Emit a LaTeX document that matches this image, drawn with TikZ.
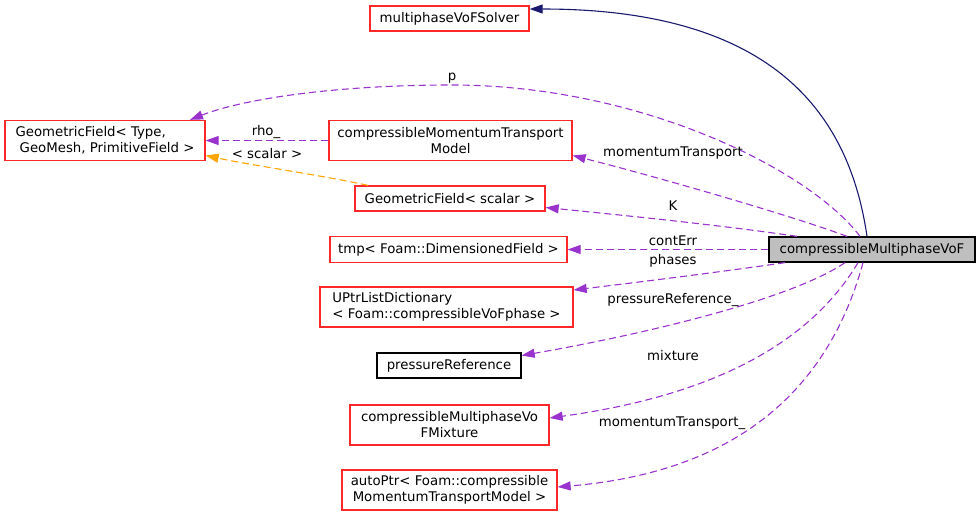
\documentclass[tikz,border=0pt]{standalone}
\usepackage{fontspec}
\setmainfont{DejaVu Sans}
\usetikzlibrary{arrows.meta}

\definecolor{memberpurple}{RGB}{154,50,205}
\definecolor{templorange}{RGB}{255,165,0}
\definecolor{baseblue}{RGB}{25,25,112}
\definecolor{boxred}{RGB}{255,40,40}
\definecolor{selfgray}{RGB}{191,191,191}

\tikzset{
    classbox/.style={draw=boxred, line width=1.3pt, inner sep=0pt, align=center},
    docbox/.style={draw=black, line width=1.3pt, inner sep=0pt, align=center},
    memberlink/.style={memberpurple, line width=1.1pt, dash pattern=on 7pt off 4pt,
        -{Triangle[length=13pt,width=9pt]}},
    templlink/.style={templorange, line width=1.1pt, dash pattern=on 7pt off 4pt,
        -{Triangle[length=13pt,width=9pt]}},
    baselink/.style={baseblue, line width=1.1pt, -{Triangle[length=13pt,width=9pt]}},
    lbl/.style={inner sep=1pt}
}

\begin{document}
\begin{tikzpicture}[x=1pt, y=-1pt, font=\fontsize{13.3}{16}\selectfont]
            \useasboundingbox (0,0) rectangle (980,517);

            % classes
            \node[classbox, minimum width=159pt, minimum height=25pt] (solver) at (449.5,18.5) {multiphaseVoFSolver};
            \node[classbox, align=left, minimum width=200pt, minimum height=40pt] (geofield) at (105,140.5) {GeometricField< Type,\\\ GeoMesh, PrimitiveField >};
            \node[classbox, minimum width=243pt, minimum height=40pt] (transport) at (450.5,140.5) {compressibleMomentumTransport\\Model};
            \node[classbox, minimum width=190pt, minimum height=25pt] (scalarfield) at (450,198.5) {GeometricField< scalar >};
            \node[classbox, minimum width=237pt, minimum height=26pt] (tmpfield) at (448.5,249.5) {tmp< Foam::DimensionedField >};
            \node[classbox, align=left, minimum width=253pt, minimum height=40pt] (phasedict) at (446.5,307) {UPtrListDictionary\\< Foam::compressibleVoFphase >};
            \node[docbox, minimum width=144pt, minimum height=25pt] (pref) at (449,365.5) {pressureReference};
            \node[classbox, minimum width=199pt, minimum height=40pt] (mixture) at (449.5,425) {compressibleMultiphaseVo\\FMixture};
            \node[classbox, minimum width=215pt, minimum height=40pt] (autoptr) at (449.5,490) {autoPtr< Foam::compressible\\MomentumTransportModel >};
            \node[docbox, fill=selfgray, minimum width=206pt, minimum height=25pt] (main) at (872,249.5) {compressibleMultiphaseVoF};

            % inheritance
            \draw[baselink] ([xshift=-5pt]main.north) .. controls (850,120) and (780,9) .. ([yshift=9.5pt]solver.east);

            % template instance
            \draw[templlink] ([xshift=-82pt]scalarfield.north) .. controls (320,175) and (250,165) .. ([yshift=-15pt]geofield.east);
            \node[lbl] (lscalar) at (267,154) {< scalar >};

            % members
            \draw[memberlink] (transport.west) -- (geofield.east);
            \node[lbl] (lrho) at (266,132) {rho\_};
            \draw[memberlink] ([xshift=-12pt]main.north) .. controls (810,170) and (640,85) .. (452,85)
                .. controls (330,85) and (240,100) .. ([xshift=85pt]geofield.north);
            \node[lbl] (lp) at (452,78) {p};
            \draw[memberlink] ([xshift=-25pt]main.north) .. controls (790,215) and (650,175) .. ([yshift=-15pt]transport.east);
            \node[lbl] (ltransport) at (673,153) {momentumTransport};
            \draw[memberlink] ([xshift=-75pt]main.north) .. controls (720,225) and (620,215) .. ([yshift=-9pt]scalarfield.east);
            \node[lbl] (lk) at (673,206) {K};
            \draw[memberlink] (main.west) -- (tmpfield.east);
            \node[lbl] (lconterr) at (673,241) {contErr};
            \draw[memberlink] ([xshift=-87pt]main.south) .. controls (720,272) and (640,282) .. ([yshift=17pt]phasedict.east);
            \node[lbl] (lphases) at (673,261) {phases};
            \draw[memberlink] ([xshift=-27pt]main.south) .. controls (790,300) and (640,335) .. ([yshift=10pt]pref.east);
            \node[lbl] (lpref) at (673,300) {pressureReference\_};
            \draw[memberlink] ([xshift=-14pt]main.south) .. controls (800,360) and (680,400) .. ([yshift=7pt]mixture.east);
            \node[lbl] (lmixture) at (673,356) {mixture};
            \draw[memberlink] ([xshift=-9pt]main.south) .. controls (820,420) and (700,475) .. ([yshift=3pt]autoptr.east);
            \node[lbl] (lautoptr) at (672,423) {momentumTransport\_};

        \end{tikzpicture}
\end{document}
